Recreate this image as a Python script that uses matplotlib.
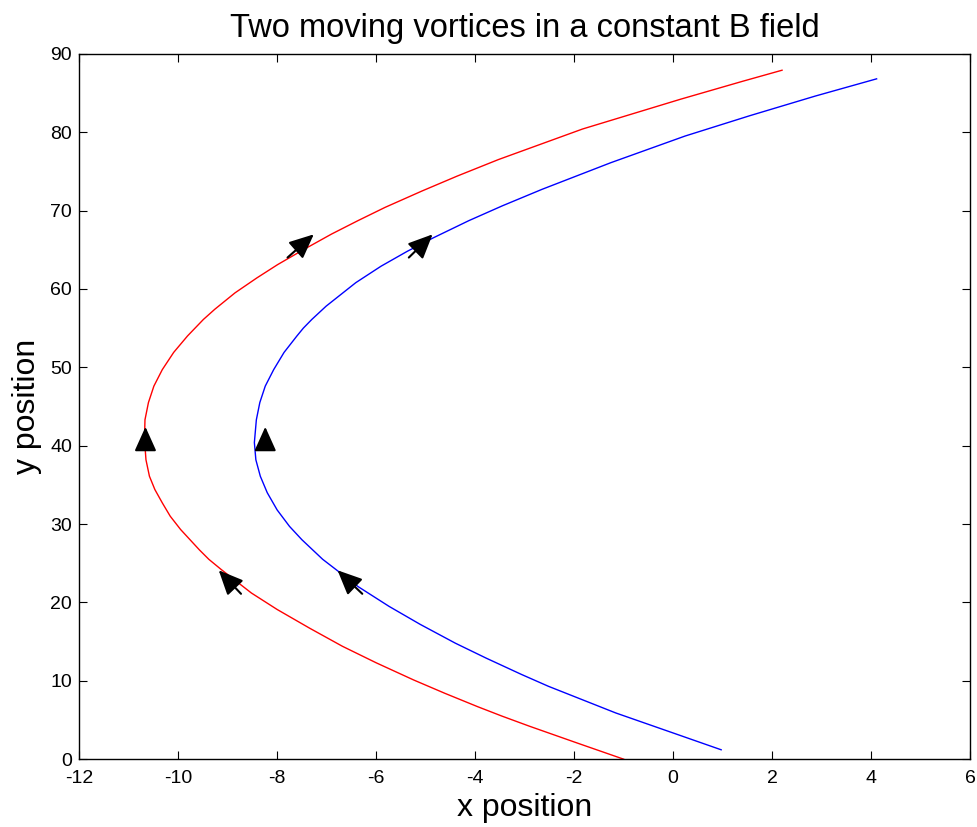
import matplotlib
matplotlib.use('Agg')
import matplotlib.pyplot as plt

plt.rcParams['font.family'] = ['Liberation Sans', 'DejaVu Sans']
plt.rcParams['axes.unicode_minus'] = False

# vortex 1 track (red), from start at the bottom to the top end
red_x = [-1.00, -1.91, -2.90, -3.46, -3.95, -4.61, -5.24, -6.00, -6.68, -7.34,
         -8.00, -8.52, -9.13, -9.38, -9.57, -9.95, -10.16, -10.32, -10.47, -10.58,
         -10.65, -10.68, -10.67, -10.60, -10.49, -10.32, -10.09, -9.81, -9.49, -9.26,
         -8.85, -8.41, -7.99, -7.47, -6.90, -6.37, -5.82, -5.07, -4.36, -3.53,
         -1.83, 0.15, 1.41, 2.20]
red_y = [0.0, 2.0, 4.2, 5.5, 6.7, 8.4, 10.1, 12.3, 14.4, 16.7,
         19.1, 21.2, 24.2, 25.5, 26.7, 29.3, 31.0, 32.7, 34.4, 36.1,
         38.2, 40.8, 43.3, 45.5, 47.6, 49.7, 51.9, 54.0, 56.1, 57.4,
         59.5, 61.4, 63.1, 65.0, 67.0, 68.7, 70.4, 72.5, 74.4, 76.5,
         80.4, 84.2, 86.5, 87.9]

# vortex 2 track (blue)
blue_x = [0.97, 0.11, -1.16, -2.52, -3.06, -3.78, -4.40, -5.11, -5.74, -6.36,
          -7.08, -7.50, -7.75, -8.00, -8.20, -8.34, -8.43, -8.46, -8.42, -8.35,
          -8.24, -8.07, -7.86, -7.60, -7.47, -7.30, -7.01, -6.41, -5.90, -5.37,
          -4.85, -4.13, -3.45, -2.65, -1.26, 0.24, 1.55, 2.87, 4.11]
blue_y = [1.2, 3.1, 5.9, 9.3, 10.8, 12.9, 14.8, 17.2, 19.5, 22.0,
          25.5, 28.0, 29.7, 31.8, 34.0, 36.1, 38.2, 40.4, 43.3, 45.5,
          47.6, 49.7, 51.9, 54.0, 55.0, 56.1, 57.8, 60.8, 62.9, 64.8,
          66.5, 68.7, 70.6, 72.7, 76.1, 79.5, 82.1, 84.6, 86.8]

# direction arrows: tail -> tip
arrow_tail_x = [-8.73, -10.66, -7.79, -6.28, -8.24, -5.34]
arrow_tail_y = [21.1, 39.5, 64.0, 21.1, 39.5, 64.0]
arrow_tip_x = [-9.18, -10.66, -7.26, -6.78, -8.24, -4.86]
arrow_tip_y = [24.1, 42.4, 66.96, 24.1, 42.4, 66.96]

fig = plt.figure(figsize=(9.77, 8.27), dpi=100)
ax = fig.add_axes([0.081, 0.082, 0.912, 0.853])

ax.plot(red_x, red_y, color='#ff0000', linewidth=1.0)
ax.plot(blue_x, blue_y, color='#0000ff', linewidth=1.0)

for tx, ty, hx, hy in zip(arrow_tail_x, arrow_tail_y, arrow_tip_x, arrow_tip_y):
    ax.annotate('', xy=(hx, hy), xytext=(tx, ty),
                arrowprops=dict(arrowstyle='-|>,head_length=1.0,head_width=0.45',
                                mutation_scale=15, color='black', lw=1.5,
                                shrinkA=0, shrinkB=0))

ax.set_xlim(-12, 6)
ax.set_ylim(0, 90)
ax.set_xticks(range(-12, 7, 2))
ax.set_yticks(range(0, 91, 10))
ax.tick_params(direction='in', top=True, right=True, length=6, width=0.8,
               labelsize=14)
ax.tick_params(axis='x', pad=8)
ax.tick_params(axis='y', pad=5)
for s in ax.spines.values():
    s.set_linewidth(1.0)

ax.set_title('Two moving vortices in a constant B field', fontsize=23.5, pad=12)
ax.set_xlabel('x position', fontsize=23, labelpad=4)
ax.set_ylabel('y position', fontsize=23, labelpad=6)

fig.savefig('out.png', dpi=100)
